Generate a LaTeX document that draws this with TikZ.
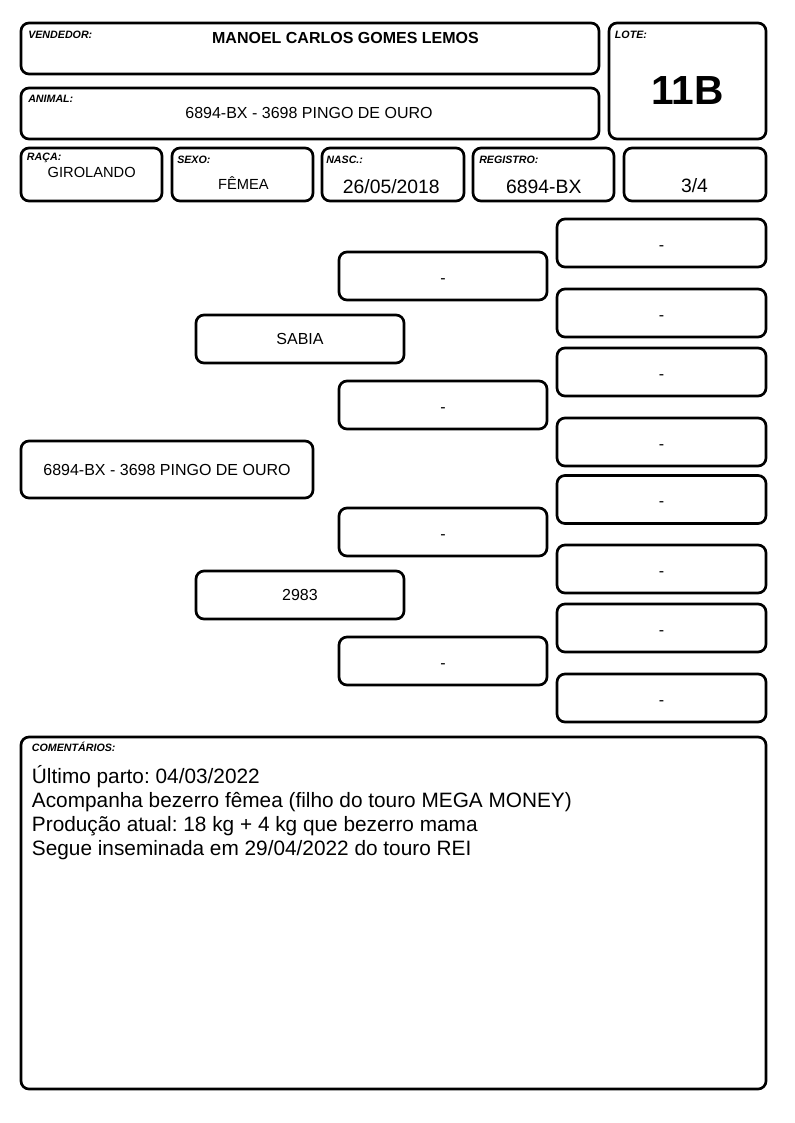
\documentclass[tikz,border=0pt]{standalone}
\usepackage{fontspec}
\setmainfont{Liberation Sans}
\begin{document}
\frenchspacing
\begin{tikzpicture}[x=0.75pt, y=-0.75pt,
    caixa/.style={draw, line width=2pt, rounded corners=6pt, inner sep=0pt},
    rotulo/.style={anchor=base west, inner sep=0pt, font=\fontsize{8}{9}\selectfont\bfseries\itshape},
    valor/.style={anchor=base, inner sep=0pt},
    nome/.style={font=\fontsize{12}{14}\selectfont},
    traco/.style={nome, text height=11pt, text depth=0pt},
    linha/.style={anchor=base west, inner sep=0pt, font=\fontsize{15.6}{18}\selectfont}]

    \useasboundingbox (0,0) rectangle (794,1123);

    % cabecalho
    \node[caixa, minimum width=578*0.75pt, minimum height=51*0.75pt] (vendedor) at (310,48.5) {};
    \node[caixa, minimum width=578*0.75pt, minimum height=51*0.75pt] (animal) at (310,113.5) {};
    \node[caixa, minimum width=157*0.75pt, minimum height=116*0.75pt] (lote) at (687.5,81) {};
    \node[caixa, minimum width=141*0.75pt, minimum height=53*0.75pt] (raca) at (91.5,174.5) {};
    \node[caixa, minimum width=141*0.75pt, minimum height=53*0.75pt] (sexo) at (242.5,174.5) {};
    \node[caixa, minimum width=142*0.75pt, minimum height=53*0.75pt] (nasc) at (393,174.5) {};
    \node[caixa, minimum width=141*0.75pt, minimum height=53*0.75pt] (registro) at (543.5,174.5) {};
    \node[caixa, minimum width=142*0.75pt, minimum height=53*0.75pt] (grau) at (695,174.5) {};

    \node[rotulo] (lvendedor) at (28,38.7) {VENDEDOR:};
    \node[rotulo] (lanimal) at (28,102.7) {ANIMAL:};
    \node[rotulo] (llote) at (614.7,38.7) {LOTE:};
    \node[rotulo] (lraca) at (26.7,161) {RAÇA:};
    \node[rotulo] (lsexo) at (177,164) {SEXO:};
    \node[rotulo] (lnasc) at (326,164) {NASC.:};
    \node[rotulo] (lregistro) at (479,164) {REGISTRO:};

    \node[valor, font=\fontsize{12}{14}\selectfont\bfseries] (vvendedor) at (345.5,43.3) {MANOEL CARLOS GOMES LEMOS};
    \node[valor, nome] (vanimal) at (309,119) {6894-BX - 3698 PINGO DE OURO};
    \node[valor, font=\fontsize{30.5}{34}\selectfont\bfseries] (vlote) at (687.5,105) {11B};
    \node[valor, font=\fontsize{11}{13}\selectfont] (vraca) at (91.7,177.7) {GIROLANDO};
    \node[valor, font=\fontsize{11}{13}\selectfont] (vsexo) at (243.5,189.5) {FÊMEA};
    \node[valor, font=\fontsize{14.5}{17}\selectfont] (vnasc) at (391.3,193.3) {26/05/2018};
    \node[valor, font=\fontsize{14.5}{17}\selectfont] (vregistro) at (543.8,193.3) {6894-BX};
    \node[valor, font=\fontsize{14.5}{17}\selectfont] (vgrau) at (694.5,192.7) {3/4};

    % genealogia
    \node[caixa, nome, minimum width=292*0.75pt, minimum height=57*0.75pt] (1) at (167,469.5) {6894-BX - 3698 PINGO DE OURO};

    \node[caixa, nome, minimum width=208*0.75pt, minimum height=48*0.75pt] (2) at (300,339) {SABIA};
    \node[caixa, nome, minimum width=208*0.75pt, minimum height=48*0.75pt] (3) at (300,595) {2983};

    \node[caixa, traco, minimum width=208*0.75pt, minimum height=48*0.75pt] (4) at (443,276) {-};
    \node[caixa, traco, minimum width=208*0.75pt, minimum height=48*0.75pt] (5) at (443,405) {-};
    \node[caixa, traco, minimum width=208*0.75pt, minimum height=48*0.75pt] (6) at (443,532) {-};
    \node[caixa, traco, minimum width=208*0.75pt, minimum height=48*0.75pt] (7) at (443,661) {-};

    \node[caixa, traco, minimum width=209*0.75pt, minimum height=48*0.75pt] (8) at (661.5,243) {-};
    \node[caixa, traco, minimum width=209*0.75pt, minimum height=48*0.75pt] (9) at (661.5,313) {-};
    \node[caixa, traco, minimum width=209*0.75pt, minimum height=48*0.75pt] (10) at (661.5,372) {-};
    \node[caixa, traco, minimum width=209*0.75pt, minimum height=48*0.75pt] (11) at (661.5,442) {-};
    \node[caixa, traco, minimum width=209*0.75pt, minimum height=48*0.75pt] (12) at (661.5,499.5) {-};
    \node[caixa, traco, minimum width=209*0.75pt, minimum height=48*0.75pt] (13) at (661.5,569) {-};
    \node[caixa, traco, minimum width=209*0.75pt, minimum height=48*0.75pt] (14) at (661.5,628) {-};
    \node[caixa, traco, minimum width=209*0.75pt, minimum height=48*0.75pt] (15) at (661.5,698) {-};

    % comentarios
    \node[caixa, minimum width=745*0.75pt, minimum height=352*0.75pt] (comentarios) at (393.5,913) {};
    \node[rotulo] (lcomentarios) at (31.7,751.7) {COMENTÁRIOS:};
    \node[linha] (c1) at (31.7,783.3) {Último parto: 04/03/2022};
    \node[linha] (c2) at (31.7,807.7) {Acompanha bezerro fêmea (filho do touro MEGA MONEY)};
    \node[linha] (c3) at (31.7,831.7) {Produção atual: 18 kg + 4 kg que bezerro mama};
    \node[linha] (c4) at (31.7,855.7) {Segue inseminada em 29/04/2022 do touro REI};

\end{tikzpicture}
\end{document}
